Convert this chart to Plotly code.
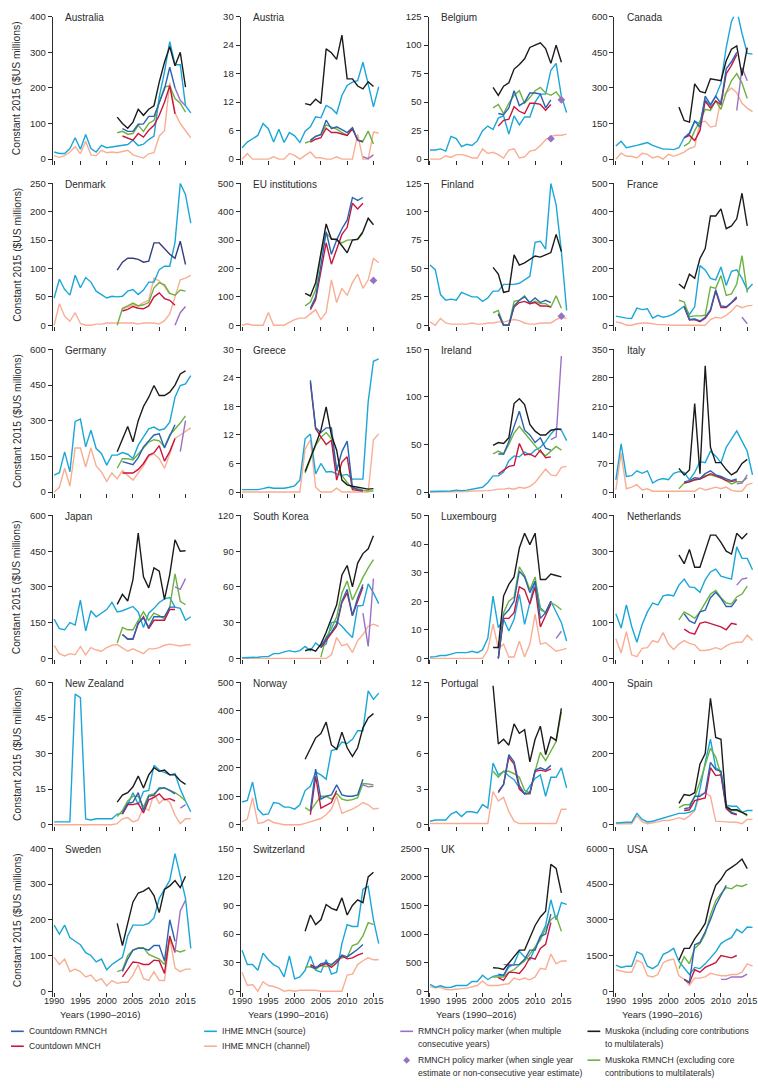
import plotly.graph_objects as go

YEARS = list(range(1990, 2017))

# ---- data: src = IHME MNCH (source), chn = IHME MNCH (channel), 1990-2016
# (start_year, values) for Countdown RMNCH (cdr), Countdown MNCH (cdm),
# Muskoka (mus), Muskoka RMNCH (mrm), policy marker line (pol)

australia_src = [20,16,16,30,60,28,69,30,20,39,32,34,35,37,41,53,38,42,55,65,175,245,330,265,265,150,130]
australia_chn = [10,5,10,20,35,15,50,12,10,25,18,20,18,22,25,12,8,3,15,18,65,80,215,130,100,80,60]
australia_cdr = (2003, [86,78,78,98,99,120,120,160,197,258,200])
australia_cdm = (2003, [65,60,53,72,62,81,95,123,160,206,127])
australia_mrm = (2002, [74,78,70,72,95,78,100,109,160,202,206,170,157,132])
australia_mus = (2002, [118,100,87,104,140,123,140,150,216,272,316,262,300,202])
australia_pol = (2013, [200,165,150])

austria_src = [2.4,3.6,4.3,5.0,7.5,6.4,3.6,6.3,3.5,5.6,4.9,3.5,5.9,6.8,8.9,8.7,11.3,10.7,9.6,13.4,15.5,16.2,16.5,20.4,15.8,11.0,15.2]
austria_chn = [0,1.2,0,0,0,0,0.5,0,0,1.2,0.8,0,0.8,1.5,0.3,0.3,0,0,0.5,0,0,0,5.2,0,0,5.7,5.5]
austria_cdr = (2003, [4.0,4.8,5.2,8.2,6.4,6.8,6.2,5.6,6.6,4.0,3.7])
austria_cdm = (2003, [3.6,4.2,4.5,6.5,5.6,5.6,5.3,5.0,6.4,4.0,3.6])
austria_mrm = (2002, [3.4,3.8,4.8,5.1,7.2,6.8,6.3,5.6,5.0,6.6,4.0,3.8,5.9,3.2])
austria_mus = (2002, [11.7,11.4,12.6,11.7,23.2,22.4,21.0,26.1,16.9,16.9,15.4,14.8,16.3,15.3])
austria_pol = (2013, [0.5,0.1,0.9])

belgium_src = [8,8,9,7,20,18,11,13,12,16,25,29,26,36,38,22,38,30,37,37,50,57,57,78,84,55,41]
belgium_chn = [0,0,0,3,1.5,4,4,3,1,1,9,5,6,4,1,8,9,1,2,7,8,12,17,20,21,21,22]
belgium_cdr = (2003, [40,39,45,60,47,50,58,58,57,45,52])
belgium_cdm = (2003, [29,34,35,46,42,40,49,49,48,43,48])
belgium_mrm = (2002, [45,48,40,49,56,60,49,54,60,63,58,56,59,53])
belgium_mus = (2002, [63,56,64,67,79,83,88,98,100,102,97,84,100,85])
belgium_dia_years = [2013, 2015]
belgium_dia_values = [18, 52]

canada_src = [55,75,48,52,58,64,70,58,50,42,42,40,48,90,105,160,150,250,225,265,320,470,580,628,530,445,442]
canada_chn = [0,25,12,12,5,25,20,5,12,0,20,12,20,30,45,52,155,160,135,140,255,280,300,280,235,215,200]
canada_cdr = (2003, [90,110,160,135,265,230,265,235,380,410,450])
canada_cdm = (2003, [90,100,78,120,245,215,245,230,360,395,440])
canada_mrm = (2003, [55,70,120,160,210,205,245,210,280,330,360,320,255])
canada_mus = (2002, [219,163,156,317,285,279,338,335,330,414,463,477,352,470])
canada_pol = (2013, [205,385,330])

denmark_src = [48,81,63,53,88,66,84,76,60,54,48,51,50,51,60,63,54,62,76,76,98,104,104,146,250,230,180]
denmark_chn = [0,38,16,7,22,3,0,0,2,2,4,4,3,4,4,4,2,4,4,4,2,8,20,50,80,83,88]
denmark_chn2 = (2003, [28,32,36,34,40,44,83,78,68,55])
denmark_cdm = (2003, [25,28,33,30,29,34,50,57,47,44,35])
denmark_mrm = (2002, [0,30,34,39,34,36,40,66,75,71,56,53,62,60])
denmark_mus = (2002, [97,111,118,118,116,111,113,145,145,135,125,118,148,107])
denmark_pol = (2013, [0,22,33])

eu_chn = [0,5,0,0,0,45,0,0,0,10,20,25,25,40,55,20,45,160,80,130,105,150,180,130,160,235,220]
eu_cdr = (2003, [60,100,210,330,250,300,340,370,450,440,450])
eu_cdm = (2003, [55,90,190,290,215,270,320,345,430,410,430])
eu_mrm = (2002, [68,82,125,250,325,305,300,290,300,300,302,325])
eu_mus = (2002, [112,103,150,260,357,303,303,280,255,300,303,330,377,354])
eu_dia_years = [2015]
eu_dia_values = [158]

finland_src = [53,49,27,22,23,22,29,27,25,25,21,24,30,30,36,36,36,37,40,43,73,74,67,125,106,65,13]
finland_chn = [3,0,6,2,1,1,1,1,2,1,1,2,2,3,3,4,5,4,2,1,1,2,2,2,5,7,6]
finland_cdr = (2003, [10,0,0,17,22,25,20,24,20,22,20])
finland_cdm = (2003, [10,0,0,16,20,21,19,20,17,17,16])
finland_mrm = (2002, [11,13,0,0,21,22,26,19,21,19,19,16,26,15])
finland_mus = (2002, [51,45,29,30,62,53,55,58,61,60,62,64,80,65])
finland_dia_years = [2015]
finland_dia_values = [8]

france_src = [32,28,25,24,60,55,58,25,35,28,32,40,55,67,38,65,210,195,165,160,205,140,190,195,165,125,145]
france_chn = [12,8,0,0,5,8,8,5,2,2,0,0,0,0,0,0,0,0,20,28,25,35,50,70,62,68,70]
france_cdr = (2003, [65,20,22,15,28,55,125,68,65,80,100])
france_cdm = (2003, [65,18,20,12,25,50,120,62,62,78,95])
france_mrm = (2002, [88,82,30,33,33,35,135,130,175,105,110,145,245,115])
france_mus = (2002, [145,130,180,165,235,270,385,385,410,340,350,375,465,350])
france_pol = (2014, [28,5])

germany_src = [71,81,169,85,297,307,190,260,183,162,113,155,155,166,159,141,197,232,266,273,260,266,294,399,448,455,490]
germany_chn = [0,20,100,25,185,185,105,185,110,85,45,80,55,90,70,50,80,110,150,160,140,100,160,225,240,255,270]
germany_cdr = (2003, [128,122,115,145,190,215,240,245,185,235,283])
germany_cdm = (2003, [80,80,80,95,120,155,165,195,130,170,225])
germany_mrm = (2002, [100,140,140,135,160,185,210,220,215,190,240,265,290,320])
germany_mus = (2002, [169,222,276,211,300,360,399,448,406,406,420,450,497,510])
germany_pol = (2014, [170,300])

greece_src = [0.5,0.5,0.5,0.5,0.7,1.0,0.8,0.8,0.8,1.0,1.3,2.5,11.2,12.2,3.8,6.0,4.2,4.3,3.8,3.5,3.7,2.7,2.7,2.7,19,27.5,28]
greece_chn = [0,0,0,0,0,0,0,0,0,0,0,0,9,11,1,0,0,0,0.8,0,0,0,0,0,0,11,12.2]
greece_cdr = (2003, [23.5,13.5,12.5,13.5,13.5,4.5,8.5,10.7,1.0,0.5,0.3])
greece_cdm = (2003, [23,13.3,11.6,10,10.9,2.5,6.3,7.4,0.5,0.3,0.2])
greece_mrm = (2002, [4.0,7.0,9.8,11.5,12.5,11.2,4.8,3.5,2.0,0.8,0.7,0.4,0.2,0.2])
greece_mus = (2002, [4.3,7,10,13,17.9,12,8.8,2.5,1.5,1.2,1.0,0.8,0.6,0.7])

ireland_src = [0.5,0.5,0.5,0.5,1,2,1.5,2,3,3.5,5,10,17,17,21,33,38,37,42,39,44,47,53,61,67,65,54]
ireland_chn = [0,0,0,0,0,0,0,0.5,1,1,1,1.5,2,3,3,4,3,5,4,6,10,17,24,18,17,26,27]
ireland_cdr = (2003, [40,40,53,68,85,65,60,52,57,46,44])
ireland_cdm = (2003, [19,23,27,28,51,39,40,37,44,36,37])
ireland_mrm = (2002, [40,43,40,50,62,69,62,55,48,42,38,43,48,44])
ireland_mus = (2002, [49,52,51,57,93,98,92,71,64,60,60,65,66,66])
ireland_pol = (2013, [55,58,143])

italy_src = [30,118,38,40,52,46,52,22,30,33,30,46,50,48,30,48,75,72,100,88,72,110,130,150,125,100,42]
italy_chn = [5,95,8,12,18,5,8,2,2,2,2,2,2,2,2,2,10,5,8,12,8,12,4,2,2,18,22]
italy_cdr = (2003, [25,28,35,33,45,52,42,38,32,28,32])
italy_cdm = (2003, [22,25,30,32,38,45,40,35,28,26,28])
italy_mrm = (2002, [8,22,25,30,32,40,42,38,34,28,20,25,25,35])
italy_mus = (2002, [58,42,54,217,45,310,110,72,72,55,42,50,70,80])
italy_pol = (2013, [20,22,42])

japan_src = [165,125,120,150,140,245,115,200,175,190,205,235,195,200,210,218,195,130,190,210,235,250,255,215,210,160,175]
japan_chn = [55,20,10,20,15,50,15,45,35,30,45,55,58,45,30,40,30,20,40,40,45,55,60,55,52,56,58]
japan_cdr = (2003, [100,80,80,150,170,130,175,175,175,215,215])
japan_cdm = (2003, [100,82,82,145,175,125,160,160,160,205,205])
japan_mrm = (2002, [65,130,120,120,160,195,160,190,180,165,215,355,240,225])
japan_mus = (2002, [227,269,241,331,526,342,296,380,366,248,352,498,450,452])
japan_pol = (2013, [300,290,335])

korea_src = [0.5,0.5,1,1,1.5,1.5,4,4,5.5,6.5,5.5,6.5,10,6.5,13,9.5,12,30,31,27,22,17.5,44,44.5,62.6,55,46]
korea_chn = [0,0,0,0,0,0,0,0,0,0,0,0,0,0,0,0,0,3,17.5,10.6,12,5,15,20,27,28.7,27]
korea_cdr = (2005, [10,17,22,29,48,58,36,51,62])
korea_cdm = (2005, [9,15,20,27,47,55,36,48,60])
korea_mrm = (2005, [1,18,25,35,55,65,49,59,68,76,83])
korea_mus = (2002, [6.4,7.8,6,12,22,34,45,70,78,60,80,88,92,103])
korea_pol = (2013, [38,10,67])

luxembourg_src = [0.5,0.6,1,1,1.5,2,2,2,2.5,2,3,7,21.8,10.8,13.7,9.6,13.7,22.4,11.9,20,27,17.7,16,20,16,12.5,6.1]
luxembourg_chn = [0,0,0,0,0,0,0,0,0,0,0,3,12,3.5,5,0.5,0.5,6,0.5,5,15.5,5,5.5,4,2.5,3,3.5]
luxembourg_cdr = (2003, [0,15,17,20,30.5,28.5,23,27,14,16,20])
luxembourg_cdm = (2003, [0,14,14,16,25,24,19,25,11,15,19])
luxembourg_mrm = (2003, [0,16,20,21.5,32,29,24,28.5,17,16,19.5,18.5,17])
luxembourg_mus = (2002, [3.8,3.8,21.8,25.9,28.5,38.6,43.8,39.8,43.8,27.6,27.6,29.5,29.0,28.5])
luxembourg_pol = (2014, [7,9.5])

netherlands_src = [125,85,150,90,45,95,130,155,150,175,178,175,205,222,200,198,185,220,242,250,230,225,222,312,280,280,248]
netherlands_chn = [55,15,75,10,5,28,30,50,45,72,40,25,40,50,42,38,22,22,25,30,25,35,42,45,45,65,50]
netherlands_cdr = (2003, [125,105,98,130,135,170,185,168,145,145,165])
netherlands_cdm = (2003, [82,72,68,98,102,98,94,88,80,98,95])
netherlands_mrm = (2002, [108,130,122,112,130,155,180,190,170,155,152,172,180,202])
netherlands_mus = (2002, [290,265,305,255,255,300,345,345,325,300,292,350,335,350])
netherlands_pol = (2013, [205,222,225])

nz_src = [1.2,1.2,1.2,1.2,55,53.5,2.5,2,2.5,2.5,2.2,2.5,4.5,4.8,8.5,13.5,8.5,14,14.5,25,23,22,21,21.5,15,10,5.5]
nz_chn = [0,0,0,0,0.3,0.3,0,0,0,0,0,0,0.5,2.5,3,1.2,2,7.5,6,13,9,11,9.5,4,0.5,2.5,2.5]
nz_cdr = (2003, [5,9,9.5,13.5,6,12,12.5,15.5,15.5,14.5,13])
nz_cdm = (2003, [4.5,8.5,8.5,9,5,10.5,11.5,13,10.5,11,10])
nz_mrm = (2002, [3.5,6,10,12,12,7.5,12.5,13,15,15.5,14.5,13.5,12,10])
nz_mus = (2002, [9.5,12.5,13.5,16,20.5,15.5,21,24,22.5,23,21,21,18.5,17])
nz_pol = (2014, [7,8.5])

norway_src = [80,85,150,55,35,38,78,75,62,62,55,70,120,135,185,175,160,260,265,290,285,300,330,330,470,440,462]
norway_chn = [10,20,95,5,8,18,8,5,0,0,0,0,5,10,15,22,35,55,100,40,48,55,65,78,70,55,58]
norway_cdr = (2003, [50,195,90,100,105,140,105,100,100,105,160])
norway_cdm = (2003, [35,170,58,68,78,120])
norway_mrm = (2002, [60,48,75,100,100,90,110,90,85,88,95,145,143,140])
norway_mus = (2002, [230,270,305,320,360,280,265,325,270,240,270,340,375,390])
norway_pol = (2013, [140,133,135])

portugal_src = [0.3,0.4,0.4,0.4,0.9,1.1,0.7,1.1,1.1,1.0,1.7,1.4,5.2,4.2,4.5,4.1,3.8,3.1,2.6,3.3,3.9,4.2,2.4,4.0,4.0,4.8,3.1]
portugal_chn = [0.1,0.1,0.1,0.1,0.1,0.1,0.1,0.1,0.1,0.1,0.1,0.1,2.8,2.0,2.3,1.1,0.3,0.1,0.1,0.1,0.1,0.1,0.1,0.1,0.1,1.3,1.3]
portugal_cdr = (2003, [2.8,3.4,5.9,5.3,3.3,2.6,2.7,4.6,4.8,4.6,5.0])
portugal_cdm = (2003, [2.7,3.4,5.7,5.1,3.0,2.6,2.6,4.5,4.6,4.5,4.7])
portugal_mrm = (2002, [4.5,4.0,4.5,4.5,4.3,4.0,2.9,2.7,4.5,6.1,5.4,6.2,7.0,9.5])
portugal_mus = (2002, [11.7,6.8,7.2,6.7,8.5,7.7,8.0,5.3,7.2,8.3,5.9,7.4,7.1,9.8])

spain_src = [5,7,7,7,32,15,8,10,14,18,22,26,32,32,35,42,100,175,240,160,150,55,52,52,35,40,40]
spain_chn = [3,3,3,3,25,8,3,5,8,12,12,15,20,15,25,40,85,90,80,10,10,8,7,7,3,15,15]
spain_cdr = (2003, [45,48,80,80,90,175,155,150,50,35,30])
spain_cdm = (2003, [40,42,68,72,75,160,138,140,45,32,28])
spain_mrm = (2002, [48,56,56,78,120,170,215,190,140,55,40,40,35,25])
spain_mus = (2002, [60,85,82,90,170,200,355,245,240,50,42,42,35,28])

sweden_src = [185,160,185,150,140,130,108,100,82,90,60,75,85,95,155,185,185,185,190,205,260,285,310,385,320,260,120]
sweden_chn = [95,75,90,55,62,55,40,45,28,35,15,30,22,25,25,45,75,35,30,55,30,30,150,65,55,62,62]
sweden_cdr = (2003, [55,90,115,120,120,115,128,128,85,200,140])
sweden_cdm = (2003, [40,60,82,80,75,75,87,85,50,155,108])
sweden_mrm = (2002, [55,60,100,115,122,122,103,97,90,75,150,115,110,115])
sweden_mus = (2002, [190,128,190,250,275,280,290,268,220,285,295,310,290,322])
sweden_pol = (2013, [110,225,255])

switzerland_src = [43,28,28,22,40,33,28,25,15,37,13,15,22,37,22,20,33,18,20,50,70,68,68,107,110,75,50]
switzerland_chn = [20,6,7,0,10,6,5,3,0,1,0,1,1,1,1,0,0,0,0,0,17,18,28,32,35,33,33]
switzerland_cdr = (2003, [26,24,29,30,28,32,38,36,40,44,49])
switzerland_cdm = (2003, [28,25,27,29,25,30,37,34,35,38,40])
switzerland_mrm = (2002, [25,26,23,27,26,27,33,35,36,48,50,58,72,70])
switzerland_mus = (2002, [63,80,70,75,91,87,85,98,80,90,96,93,120,125])

uk_src = [120,70,95,65,70,100,100,100,170,170,280,205,260,280,270,420,480,700,600,550,760,950,1150,1600,1250,1550,1520]
uk_chn = [80,60,70,30,25,30,45,55,80,100,180,100,100,100,120,130,230,200,230,200,250,400,380,650,480,530,530]
uk_cdr = (2003, [300,280,450,460,470,560,720,720,960,1000,1350])
uk_cdm = (2003, [240,190,330,330,310,420,590,560,750,820,1200])
uk_mrm = (2002, [250,250,250,330,380,460,530,650,780,900,1100,1250,1320,1050])
uk_mus = (2002, [410,405,380,500,620,720,720,950,1150,1300,1400,2220,2150,1720])
uk_pol = (2004, [465,465,465])

usa_src = [1100,1000,1050,1050,1650,1550,1050,950,1100,1550,1650,1800,1250,950,700,1000,950,1150,1400,1650,2000,2150,2250,2600,2450,2700,2680]
usa_chn = [900,850,800,800,1300,1200,650,600,700,1200,1300,1350,650,500,250,550,550,600,750,700,650,650,700,700,800,1150,1050]
usa_cdr = (2003, [500,380,1950,2050,2500,3000,3600,4050,4450])
usa_cdm = (2003, [500,350,900,800,1000,1100,1200,1500,1450,1400,1500])
usa_mrm = (2002, [950,1450,1150,1800,2000,2400,3200,3800,4100,4350,4300,4450,4400,4500])
usa_mus = (2002, [1300,1800,1800,2200,2500,2850,3800,4450,4700,5050,5200,5350,5550,5150])
usa_pol = (2010, [500,500,600,600,600,720])

COUNTRIES = ["Australia", "Austria", "Belgium", "Canada",
             "Denmark", "EU institutions", "Finland", "France",
             "Germany", "Greece", "Ireland", "Italy",
             "Japan", "South Korea", "Luxembourg", "Netherlands",
             "New Zealand", "Norway", "Portugal", "Spain",
             "Sweden", "Switzerland", "UK", "USA"]
YMAX = [400, 30, 125, 600, 250, 500, 125, 500, 600, 30, 150, 350,
        600, 120, 50, 400, 60, 500, 12, 400, 400, 150, 2500, 6000]
YSTEP = [100, 6, 25, 150, 50, 100, 25, 100, 150, 6, 50, 70,
         150, 30, 10, 100, 15, 100, 3, 100, 100, 30, 500, 1500]
XTICKS = [1990, 1995, 2000, 2005, 2010, 2015]

g = globals()
PREFIX = ["australia", "austria", "belgium", "canada", "denmark", "eu", "finland", "france",
          "germany", "greece", "ireland", "italy", "japan", "korea", "luxembourg", "netherlands",
          "nz", "norway", "portugal", "spain", "sweden", "switzerland", "uk", "usa"]

COL = dict(src="#1ba6d8", chn="#f9ae93", chn2="#f9ae93", cdr="#2a63b0", cdm="#c8163e",
           pol="#9b71c6", mus="#1b1b1b", mrm="#6bb241")
ORDER = ["chn", "chn2", "src", "mrm", "cdm", "cdr", "pol", "mus"]

W, H = 758, 1088
COL_LEFT = [44.3, 235.0, 425.7, 614.3]
ROW_TOP = [10.7, 178.3, 345.3, 512.3, 680.0, 847.0]
ROW_ZERO = [154.0, 321.0, 488.7, 656.0, 823.3, 990.7]
PX_PER_YEAR = 5.333
X0, X1 = 1989.72, 2016.6
FONT = "'Liberation Sans', Arial, sans-serif"
TXT = "#2b2b2b"
FS_TICK = 9.5
FS_YEAR = 9.2
FS_LEG = 8.6

fig = go.Figure()
layout = dict(width=W, height=H, margin=dict(l=0, r=0, t=0, b=0),
              paper_bgcolor="white", plot_bgcolor="white", showlegend=False,
              font=dict(family=FONT, size=FS_TICK, color=TXT))
annotations = []
shapes = []

for i, (name, pre) in enumerate(zip(COUNTRIES, PREFIX)):
    r, c = divmod(i, 4)
    ax = "" if i == 0 else str(i + 1)
    left = COL_LEFT[c]
    right = left + (X1 - X0) * PX_PER_YEAR
    top, zero = ROW_TOP[r], ROW_ZERO[r]
    bottom = zero + 6
    ymax = YMAX[i]
    ylo = -(bottom - zero) / (zero - top) * ymax
    layout["xaxis" + ax] = dict(
        domain=[left / W, right / W], range=[X0, X1], anchor="y" + ax,
        tickvals=XTICKS, ticks="inside", ticklen=4, tickcolor=TXT,
        showticklabels=False, showline=False, showgrid=False, zeroline=False)
    layout["yaxis" + ax] = dict(
        domain=[1 - bottom / H, 1 - top / H], range=[ylo, ymax], anchor="x" + ax,
        tickvals=[YSTEP[i] * k for k in range(int(round(ymax / YSTEP[i])) + 1)],
        ticks="outside", ticklen=4, tickcolor=TXT, showline=True, linecolor=TXT,
        linewidth=1, showgrid=False, zeroline=False, ticklabeloverflow="allow",
        tickfont=dict(size=FS_TICK, color=TXT))
    if r == 5:
        # year labels on an overlaying axis, placed just under the bottom row
        lab = str(25 + c)
        layout["xaxis" + lab] = dict(
            overlaying="x" + str(i + 1), anchor="free", position=1 - 993 / H,
            range=[X0, X1], tickvals=XTICKS, ticks="", showline=False, showgrid=False,
            zeroline=False, showticklabels=True, ticklabeloverflow="allow",
            tickfont=dict(size=FS_YEAR, color=TXT))
        fig.add_trace(go.Scatter(x=[None], y=[None], mode="lines", xaxis="x" + lab,
                                 yaxis="y" + str(i + 1), hoverinfo="skip", showlegend=False))
    for key in ORDER:
        var = pre + "_" + key
        if var not in g:
            continue
        val = g[var]
        if isinstance(val, tuple):
            start, ys = val
            xs = list(range(start, start + len(ys)))
        else:
            ys = val
            xs = YEARS[:len(ys)]
        color = COL[key]
        if pre == "denmark" and key == "mus":
            color = "#323e7e"
        fig.add_trace(go.Scatter(x=xs, y=ys, mode="lines", xaxis="x" + ax, yaxis="y" + ax,
                                 line=dict(color=color, width=1.4), hoverinfo="skip",
                                 cliponaxis=False))
    if pre + "_dia_years" in g:
        fig.add_trace(go.Scatter(x=g[pre + "_dia_years"], y=g[pre + "_dia_values"], mode="markers",
                                 xaxis="x" + ax, yaxis="y" + ax,
                                 marker=dict(symbol="diamond", size=6, color=COL["pol"]),
                                 hoverinfo="skip", cliponaxis=False))
    annotations.append(dict(text=name, x=(left + 10.5) / W, y=1 - (top + 1) / H,
                            xref="paper", yref="paper", xanchor="left", yanchor="middle",
                            showarrow=False, font=dict(size=10, color=TXT)))
    if c == 0:
        annotations.append(dict(text="Constant 2015 ($US millions)", x=8.5 / W,
                                y=1 - (top + zero) / 2 / H, xref="paper", yref="paper",
                                xanchor="center", yanchor="middle", textangle=-90,
                                showarrow=False, font=dict(size=10.3, color=TXT)))
    if r == 5:
        annotations.append(dict(text="Years (1990–2016)", x=(left + 48) / W, y=1 - 1014 / H,
                                xref="paper", yref="paper", xanchor="center", yanchor="middle",
                                showarrow=False, font=dict(size=FS_TICK, color=TXT)))

# legend (drawn as shapes + text)
LEG = [
    (2, 1031, "line", COL["cdr"], ["Countdown RMNCH"]),
    (2, 1046, "line", COL["cdm"], ["Countdown MNCH"]),
    (198, 1031, "line", COL["src"], ["IHME MNCH (source)"]),
    (198, 1046, "line", COL["chn"], ["IHME MNCH (channel)"]),
    (397, 1031, "line", COL["pol"], ["RMNCH policy marker (when multiple", "consecutive years)"]),
    (397, 1060, "dia", COL["pol"], ["RMNCH policy marker (when single year", "estimate or non-consecutive year estimate)"]),
    (587, 1031, "line", COL["mus"], ["Muskoka (including core contributions", "to multilaterals)"]),
    (587, 1060, "line", COL["mrm"], ["Muskoka RMNCH (excluding core", "contributions to multilaterals)"]),
]
for x, y, kind, color, lines in LEG:
    if kind == "line":
        shapes.append(dict(type="line", xref="paper", yref="paper", x0=x / W, x1=(x + 13) / W,
                           y0=1 - y / H, y1=1 - y / H, line=dict(color=color, width=1.6)))
    else:
        shapes.append(dict(type="path", xref="paper", yref="paper",
                           path=f"M {(x+6.5)/W} {1-(y-3.5)/H} L {(x+10)/W} {1-y/H} L {(x+6.5)/W} {1-(y+3.5)/H} L {(x+3)/W} {1-y/H} Z",
                           fillcolor=color, line=dict(color=color, width=0)))
    for k, t in enumerate(lines):
        annotations.append(dict(text=t, x=(x + 16) / W, y=1 - (y + 12.5 * k) / H,
                                xref="paper", yref="paper", xanchor="left", yanchor="middle",
                                showarrow=False, font=dict(size=FS_LEG, color=TXT)))

layout["annotations"] = annotations
layout["shapes"] = shapes
fig.update_layout(**layout)
fig.write_html("out.html", config={"displayModeBar": False},
               post_script="document.body.style.margin='0';document.body.style.overflow='hidden';")
